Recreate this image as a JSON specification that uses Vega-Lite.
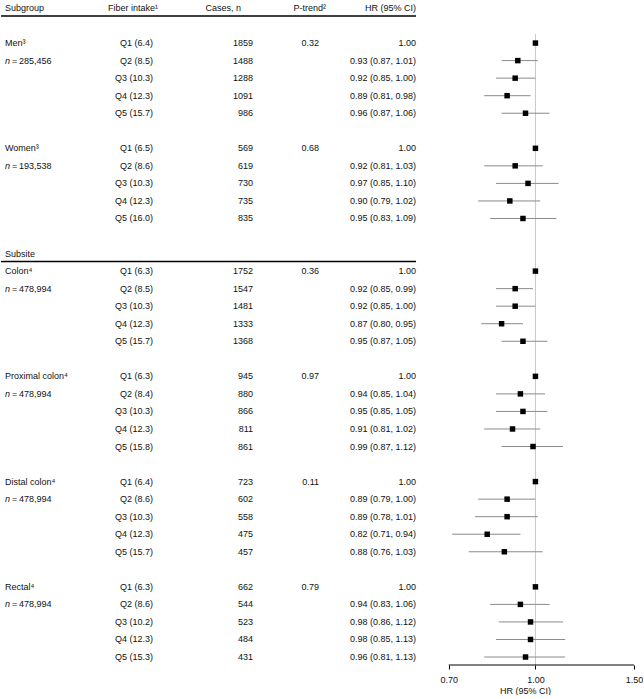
{
  "$schema": "https://vega.github.io/schema/vega-lite/v6.json",
  "padding": 0,
  "spacing": 0,
  "bounds": "flush",
  "config": {
    "view": {"stroke": null},
    "font": "Liberation Sans",
    "text": {"font": "Liberation Sans", "fontSize": 9, "color": "#111", "baseline": "middle"},
    "axis": {"labelFont": "Liberation Sans", "titleFont": "Liberation Sans"}
  },
  "data": {"values": [
    {"key": "M1", "subgroup": "Men³", "fiber": "Q1 (6.4)", "cases": 1859, "ptrend": "0.32", "hr_ci": "1.00", "hr": 1.00},
    {"key": "M2", "n": "285,456", "fiber": "Q2 (8.5)", "cases": 1488, "hr_ci": "0.93 (0.87, 1.01)", "hr": 0.93, "lo": 0.87, "hi": 1.01},
    {"key": "M3", "fiber": "Q3 (10.3)", "cases": 1288, "hr_ci": "0.92 (0.85, 1.00)", "hr": 0.92, "lo": 0.85, "hi": 1.00},
    {"key": "M4", "fiber": "Q4 (12.3)", "cases": 1091, "hr_ci": "0.89 (0.81, 0.98)", "hr": 0.89, "lo": 0.81, "hi": 0.98},
    {"key": "M5", "fiber": "Q5 (15.7)", "cases": 986, "hr_ci": "0.96 (0.87, 1.06)", "hr": 0.96, "lo": 0.87, "hi": 1.06},
    {"key": "W1", "subgroup": "Women³", "fiber": "Q1 (6.5)", "cases": 569, "ptrend": "0.68", "hr_ci": "1.00", "hr": 1.00},
    {"key": "W2", "n": "193,538", "fiber": "Q2 (8.6)", "cases": 619, "hr_ci": "0.92 (0.81, 1.03)", "hr": 0.92, "lo": 0.81, "hi": 1.03},
    {"key": "W3", "fiber": "Q3 (10.3)", "cases": 730, "hr_ci": "0.97 (0.85, 1.10)", "hr": 0.97, "lo": 0.85, "hi": 1.10},
    {"key": "W4", "fiber": "Q4 (12.3)", "cases": 735, "hr_ci": "0.90 (0.79, 1.02)", "hr": 0.90, "lo": 0.79, "hi": 1.02},
    {"key": "W5", "fiber": "Q5 (16.0)", "cases": 835, "hr_ci": "0.95 (0.83, 1.09)", "hr": 0.95, "lo": 0.83, "hi": 1.09},
    {"key": "C1", "subgroup": "Colon⁴", "fiber": "Q1 (6.3)", "cases": 1752, "ptrend": "0.36", "hr_ci": "1.00", "hr": 1.00},
    {"key": "C2", "n": "478,994", "fiber": "Q2 (8.5)", "cases": 1547, "hr_ci": "0.92 (0.85, 0.99)", "hr": 0.92, "lo": 0.85, "hi": 0.99},
    {"key": "C3", "fiber": "Q3 (10.3)", "cases": 1481, "hr_ci": "0.92 (0.85, 1.00)", "hr": 0.92, "lo": 0.85, "hi": 1.00},
    {"key": "C4", "fiber": "Q4 (12.3)", "cases": 1333, "hr_ci": "0.87 (0.80, 0.95)", "hr": 0.87, "lo": 0.80, "hi": 0.95},
    {"key": "C5", "fiber": "Q5 (15.7)", "cases": 1368, "hr_ci": "0.95 (0.87, 1.05)", "hr": 0.95, "lo": 0.87, "hi": 1.05},
    {"key": "P1", "subgroup": "Proximal colon⁴", "fiber": "Q1 (6.3)", "cases": 945, "ptrend": "0.97", "hr_ci": "1.00", "hr": 1.00},
    {"key": "P2", "n": "478,994", "fiber": "Q2 (8.4)", "cases": 880, "hr_ci": "0.94 (0.85, 1.04)", "hr": 0.94, "lo": 0.85, "hi": 1.04},
    {"key": "P3", "fiber": "Q3 (10.3)", "cases": 866, "hr_ci": "0.95 (0.85, 1.05)", "hr": 0.95, "lo": 0.85, "hi": 1.05},
    {"key": "P4", "fiber": "Q4 (12.3)", "cases": 811, "hr_ci": "0.91 (0.81, 1.02)", "hr": 0.91, "lo": 0.81, "hi": 1.02},
    {"key": "P5", "fiber": "Q5 (15.8)", "cases": 861, "hr_ci": "0.99 (0.87, 1.12)", "hr": 0.99, "lo": 0.87, "hi": 1.12},
    {"key": "D1", "subgroup": "Distal colon⁴", "fiber": "Q1 (6.4)", "cases": 723, "ptrend": "0.11", "hr_ci": "1.00", "hr": 1.00},
    {"key": "D2", "n": "478,994", "fiber": "Q2 (8.6)", "cases": 602, "hr_ci": "0.89 (0.79, 1.00)", "hr": 0.89, "lo": 0.79, "hi": 1.00},
    {"key": "D3", "fiber": "Q3 (10.3)", "cases": 558, "hr_ci": "0.89 (0.78, 1.01)", "hr": 0.89, "lo": 0.78, "hi": 1.01},
    {"key": "D4", "fiber": "Q4 (12.3)", "cases": 475, "hr_ci": "0.82 (0.71, 0.94)", "hr": 0.82, "lo": 0.71, "hi": 0.94},
    {"key": "D5", "fiber": "Q5 (15.7)", "cases": 457, "hr_ci": "0.88 (0.76, 1.03)", "hr": 0.88, "lo": 0.76, "hi": 1.03},
    {"key": "R1", "subgroup": "Rectal⁴", "fiber": "Q1 (6.3)", "cases": 662, "ptrend": "0.79", "hr_ci": "1.00", "hr": 1.00},
    {"key": "R2", "n": "478,994", "fiber": "Q2 (8.6)", "cases": 544, "hr_ci": "0.94 (0.83, 1.06)", "hr": 0.94, "lo": 0.83, "hi": 1.06},
    {"key": "R3", "fiber": "Q3 (10.2)", "cases": 523, "hr_ci": "0.98 (0.86, 1.12)", "hr": 0.98, "lo": 0.86, "hi": 1.12},
    {"key": "R4", "fiber": "Q4 (12.3)", "cases": 484, "hr_ci": "0.98 (0.85, 1.13)", "hr": 0.98, "lo": 0.85, "hi": 1.13},
    {"key": "R5", "fiber": "Q5 (15.3)", "cases": 431, "hr_ci": "0.96 (0.81, 1.13)", "hr": 0.96, "lo": 0.81, "hi": 1.13}
  ]},
  "hconcat": [
    {
      "width": 4, "height": 665,
      "layer": [
        {"data": {"values": [{"key": "H", "label": "Subgroup"}, {"key": "S", "label": "Subsite"}]},
         "mark": {"type": "text", "align": "left"},
         "encoding": {"x": {"value": "width"}, "y": {"field": "key", "type": "nominal", "scale": {"type": "point", "domain": ["H","b1","M1","M2","M3","M4","M5","b2","W1","W2","W3","W4","W5","b3","S","C1","C2","C3","C4","C5","b4","P1","P2","P3","P4","P5","b5","D1","D2","D3","D4","D5","b6","R1","R2","R3","R4","R5"], "padding": 0.455}, "axis": null}, "text": {"field": "label"}}},
        {"transform": [{"filter": "isValid(datum.subgroup)"}],
         "mark": {"type": "text", "align": "left"},
         "encoding": {"x": {"value": "width"}, "y": {"field": "key", "type": "nominal", "scale": {"type": "point", "domain": ["H","b1","M1","M2","M3","M4","M5","b2","W1","W2","W3","W4","W5","b3","S","C1","C2","C3","C4","C5","b4","P1","P2","P3","P4","P5","b5","D1","D2","D3","D4","D5","b6","R1","R2","R3","R4","R5"], "padding": 0.455}, "axis": null}, "text": {"field": "subgroup"}}},
        {"transform": [{"filter": "isValid(datum.n)"}],
         "mark": {"type": "text", "align": "left", "fontStyle": "italic"},
         "encoding": {"x": {"value": "width"}, "y": {"field": "key", "type": "nominal", "scale": {"type": "point", "domain": ["H","b1","M1","M2","M3","M4","M5","b2","W1","W2","W3","W4","W5","b3","S","C1","C2","C3","C4","C5","b4","P1","P2","P3","P4","P5","b5","D1","D2","D3","D4","D5","b6","R1","R2","R3","R4","R5"], "padding": 0.455}, "axis": null}, "text": {"value": "n"}}},
        {"transform": [{"filter": "isValid(datum.n)"}],
         "mark": {"type": "text", "align": "left", "dx": 7},
         "encoding": {"x": {"value": "width"}, "y": {"field": "key", "type": "nominal", "scale": {"type": "point", "domain": ["H","b1","M1","M2","M3","M4","M5","b2","W1","W2","W3","W4","W5","b3","S","C1","C2","C3","C4","C5","b4","P1","P2","P3","P4","P5","b5","D1","D2","D3","D4","D5","b6","R1","R2","R3","R4","R5"], "padding": 0.455}, "axis": null}, "text": {"value": "="}}},
        {"transform": [{"filter": "isValid(datum.n)"}],
         "mark": {"type": "text", "align": "left", "dx": 14},
         "encoding": {"x": {"value": "width"}, "y": {"field": "key", "type": "nominal", "scale": {"type": "point", "domain": ["H","b1","M1","M2","M3","M4","M5","b2","W1","W2","W3","W4","W5","b3","S","C1","C2","C3","C4","C5","b4","P1","P2","P3","P4","P5","b5","D1","D2","D3","D4","D5","b6","R1","R2","R3","R4","R5"], "padding": 0.455}, "axis": null}, "text": {"field": "n"}}},
        {"data": {"values": [{"key": "H"}, {"key": "S"}]},
         "mark": {"type": "rule", "strokeWidth": 1.5, "color": "#000", "yOffset": 8},
         "encoding": {"y": {"field": "key", "type": "nominal", "scale": {"type": "point", "domain": ["H","b1","M1","M2","M3","M4","M5","b2","W1","W2","W3","W4","W5","b3","S","C1","C2","C3","C4","C5","b4","P1","P2","P3","P4","P5","b5","D1","D2","D3","D4","D5","b6","R1","R2","R3","R4","R5"], "padding": 0.455}, "axis": null}}}
      ]
    },
    {
      "width": 148, "height": 665,
      "layer": [
        {"data": {"values": [{"key": "H", "label": "Fiber intake¹"}]},
         "mark": {"type": "text", "align": "right", "dx": 5},
         "encoding": {"x": {"value": "width"}, "y": {"field": "key", "type": "nominal", "scale": {"type": "point", "domain": ["H","b1","M1","M2","M3","M4","M5","b2","W1","W2","W3","W4","W5","b3","S","C1","C2","C3","C4","C5","b4","P1","P2","P3","P4","P5","b5","D1","D2","D3","D4","D5","b6","R1","R2","R3","R4","R5"], "padding": 0.455}, "axis": null}, "text": {"field": "label"}}},
        {"mark": {"type": "text", "align": "right"},
         "encoding": {"x": {"value": "width"}, "y": {"field": "key", "type": "nominal", "scale": {"type": "point", "domain": ["H","b1","M1","M2","M3","M4","M5","b2","W1","W2","W3","W4","W5","b3","S","C1","C2","C3","C4","C5","b4","P1","P2","P3","P4","P5","b5","D1","D2","D3","D4","D5","b6","R1","R2","R3","R4","R5"], "padding": 0.455}, "axis": null}, "text": {"field": "fiber"}}},
        {"data": {"values": [{"key": "H"}, {"key": "S"}]},
         "mark": {"type": "rule", "strokeWidth": 1.5, "color": "#000", "yOffset": 8},
         "encoding": {"y": {"field": "key", "type": "nominal", "scale": {"type": "point", "domain": ["H","b1","M1","M2","M3","M4","M5","b2","W1","W2","W3","W4","W5","b3","S","C1","C2","C3","C4","C5","b4","P1","P2","P3","P4","P5","b5","D1","D2","D3","D4","D5","b6","R1","R2","R3","R4","R5"], "padding": 0.455}, "axis": null}}}
      ]
    },
    {
      "width": 100, "height": 665,
      "layer": [
        {"data": {"values": [{"key": "H", "label": "Cases, n"}]},
         "mark": {"type": "text", "align": "right", "dx": -12},
         "encoding": {"x": {"value": "width"}, "y": {"field": "key", "type": "nominal", "scale": {"type": "point", "domain": ["H","b1","M1","M2","M3","M4","M5","b2","W1","W2","W3","W4","W5","b3","S","C1","C2","C3","C4","C5","b4","P1","P2","P3","P4","P5","b5","D1","D2","D3","D4","D5","b6","R1","R2","R3","R4","R5"], "padding": 0.455}, "axis": null}, "text": {"field": "label"}}},
        {"mark": {"type": "text", "align": "right"},
         "encoding": {"x": {"value": "width"}, "y": {"field": "key", "type": "nominal", "scale": {"type": "point", "domain": ["H","b1","M1","M2","M3","M4","M5","b2","W1","W2","W3","W4","W5","b3","S","C1","C2","C3","C4","C5","b4","P1","P2","P3","P4","P5","b5","D1","D2","D3","D4","D5","b6","R1","R2","R3","R4","R5"], "padding": 0.455}, "axis": null}, "text": {"field": "cases", "type": "quantitative", "format": "d"}}},
        {"data": {"values": [{"key": "H"}, {"key": "S"}]},
         "mark": {"type": "rule", "strokeWidth": 1.5, "color": "#000", "yOffset": 8},
         "encoding": {"y": {"field": "key", "type": "nominal", "scale": {"type": "point", "domain": ["H","b1","M1","M2","M3","M4","M5","b2","W1","W2","W3","W4","W5","b3","S","C1","C2","C3","C4","C5","b4","P1","P2","P3","P4","P5","b5","D1","D2","D3","D4","D5","b6","R1","R2","R3","R4","R5"], "padding": 0.455}, "axis": null}}}
      ]
    },
    {
      "width": 66, "height": 665,
      "layer": [
        {"data": {"values": [{"key": "H", "label": "P-trend²"}]},
         "mark": {"type": "text", "align": "right", "dx": 7},
         "encoding": {"x": {"value": "width"}, "y": {"field": "key", "type": "nominal", "scale": {"type": "point", "domain": ["H","b1","M1","M2","M3","M4","M5","b2","W1","W2","W3","W4","W5","b3","S","C1","C2","C3","C4","C5","b4","P1","P2","P3","P4","P5","b5","D1","D2","D3","D4","D5","b6","R1","R2","R3","R4","R5"], "padding": 0.455}, "axis": null}, "text": {"field": "label"}}},
        {"transform": [{"filter": "isValid(datum.ptrend)"}],
         "mark": {"type": "text", "align": "right"},
         "encoding": {"x": {"value": "width"}, "y": {"field": "key", "type": "nominal", "scale": {"type": "point", "domain": ["H","b1","M1","M2","M3","M4","M5","b2","W1","W2","W3","W4","W5","b3","S","C1","C2","C3","C4","C5","b4","P1","P2","P3","P4","P5","b5","D1","D2","D3","D4","D5","b6","R1","R2","R3","R4","R5"], "padding": 0.455}, "axis": null}, "text": {"field": "ptrend"}}},
        {"data": {"values": [{"key": "H"}, {"key": "S"}]},
         "mark": {"type": "rule", "strokeWidth": 1.5, "color": "#000", "yOffset": 8},
         "encoding": {"y": {"field": "key", "type": "nominal", "scale": {"type": "point", "domain": ["H","b1","M1","M2","M3","M4","M5","b2","W1","W2","W3","W4","W5","b3","S","C1","C2","C3","C4","C5","b4","P1","P2","P3","P4","P5","b5","D1","D2","D3","D4","D5","b6","R1","R2","R3","R4","R5"], "padding": 0.455}, "axis": null}}}
      ]
    },
    {
      "width": 97, "height": 665,
      "layer": [
        {"data": {"values": [{"key": "H", "label": "HR (95% CI)"}]},
         "mark": {"type": "text", "align": "right"},
         "encoding": {"x": {"value": "width"}, "y": {"field": "key", "type": "nominal", "scale": {"type": "point", "domain": ["H","b1","M1","M2","M3","M4","M5","b2","W1","W2","W3","W4","W5","b3","S","C1","C2","C3","C4","C5","b4","P1","P2","P3","P4","P5","b5","D1","D2","D3","D4","D5","b6","R1","R2","R3","R4","R5"], "padding": 0.455}, "axis": null}, "text": {"field": "label"}}},
        {"mark": {"type": "text", "align": "right"},
         "encoding": {"x": {"value": "width"}, "y": {"field": "key", "type": "nominal", "scale": {"type": "point", "domain": ["H","b1","M1","M2","M3","M4","M5","b2","W1","W2","W3","W4","W5","b3","S","C1","C2","C3","C4","C5","b4","P1","P2","P3","P4","P5","b5","D1","D2","D3","D4","D5","b6","R1","R2","R3","R4","R5"], "padding": 0.455}, "axis": null}, "text": {"field": "hr_ci"}}},
        {"data": {"values": [{"key": "H"}, {"key": "S"}]},
         "mark": {"type": "rule", "strokeWidth": 1.5, "color": "#000", "yOffset": 8},
         "encoding": {"y": {"field": "key", "type": "nominal", "scale": {"type": "point", "domain": ["H","b1","M1","M2","M3","M4","M5","b2","W1","W2","W3","W4","W5","b3","S","C1","C2","C3","C4","C5","b4","P1","P2","P3","P4","P5","b5","D1","D2","D3","D4","D5","b6","R1","R2","R3","R4","R5"], "padding": 0.455}, "axis": null}}}
      ]
    },
    {
      "width": 218, "height": 665,
      "layer": [
        {"data": {"values": [{"key": "b1", "v": 1}]},
         "mark": {"type": "rule", "color": "#c8c8c8", "strokeWidth": 1, "yOffset": 8.5},
         "encoding": {
           "x": {"field": "v", "type": "quantitative", "scale": {"type": "log", "domain": [0.6118, 1.5], "nice": false, "zero": false}, "axis": {"values": [0.7, 1, 1.5], "format": ".2f", "domain": false, "grid": false, "ticks": true, "tickColor": "#000", "tickSize": 4, "labelFontSize": 9, "labelColor": "#111", "labelPadding": 6, "labelFlush": false, "labelOverlap": false, "title": "HR (95% CI)", "titleFontSize": 9, "titleFontWeight": "normal", "titleColor": "#111", "titlePadding": 2}},
           "y": {"field": "key", "type": "nominal", "scale": {"type": "point", "domain": ["H","b1","M1","M2","M3","M4","M5","b2","W1","W2","W3","W4","W5","b3","S","C1","C2","C3","C4","C5","b4","P1","P2","P3","P4","P5","b5","D1","D2","D3","D4","D5","b6","R1","R2","R3","R4","R5"], "padding": 0.455}, "axis": null},
           "y2": {"value": "height"}}},
        {"transform": [{"filter": "isValid(datum.lo)"}],
         "mark": {"type": "rule", "color": "#8a8a8a", "strokeWidth": 1},
         "encoding": {
           "x": {"field": "lo", "type": "quantitative", "scale": {"type": "log", "domain": [0.6118, 1.5], "nice": false, "zero": false}, "axis": {"values": [0.7, 1, 1.5], "format": ".2f", "domain": false, "grid": false, "ticks": true, "tickColor": "#000", "tickSize": 4, "labelFontSize": 9, "labelColor": "#111", "labelPadding": 6, "labelFlush": false, "labelOverlap": false, "title": "HR (95% CI)", "titleFontSize": 9, "titleFontWeight": "normal", "titleColor": "#111", "titlePadding": 2}},
           "x2": {"field": "hi"},
           "y": {"field": "key", "type": "nominal", "scale": {"type": "point", "domain": ["H","b1","M1","M2","M3","M4","M5","b2","W1","W2","W3","W4","W5","b3","S","C1","C2","C3","C4","C5","b4","P1","P2","P3","P4","P5","b5","D1","D2","D3","D4","D5","b6","R1","R2","R3","R4","R5"], "padding": 0.455}, "axis": null}}},
        {"mark": {"type": "point", "shape": "square", "filled": true, "size": 30, "color": "#000", "opacity": 1},
         "encoding": {
           "x": {"field": "hr", "type": "quantitative", "scale": {"type": "log", "domain": [0.6118, 1.5], "nice": false, "zero": false}, "axis": {"values": [0.7, 1, 1.5], "format": ".2f", "domain": false, "grid": false, "ticks": true, "tickColor": "#000", "tickSize": 4, "labelFontSize": 9, "labelColor": "#111", "labelPadding": 6, "labelFlush": false, "labelOverlap": false, "title": "HR (95% CI)", "titleFontSize": 9, "titleFontWeight": "normal", "titleColor": "#111", "titlePadding": 2}},
           "y": {"field": "key", "type": "nominal", "scale": {"type": "point", "domain": ["H","b1","M1","M2","M3","M4","M5","b2","W1","W2","W3","W4","W5","b3","S","C1","C2","C3","C4","C5","b4","P1","P2","P3","P4","P5","b5","D1","D2","D3","D4","D5","b6","R1","R2","R3","R4","R5"], "padding": 0.455}, "axis": null}}},
        {"data": {"values": [{"a": 0.7, "b": 1.5}]},
         "mark": {"type": "rule", "color": "#000", "strokeWidth": 1},
         "encoding": {
           "x": {"field": "a", "type": "quantitative", "scale": {"type": "log", "domain": [0.6118, 1.5], "nice": false, "zero": false}, "axis": {"values": [0.7, 1, 1.5], "format": ".2f", "domain": false, "grid": false, "ticks": true, "tickColor": "#000", "tickSize": 4, "labelFontSize": 9, "labelColor": "#111", "labelPadding": 6, "labelFlush": false, "labelOverlap": false, "title": "HR (95% CI)", "titleFontSize": 9, "titleFontWeight": "normal", "titleColor": "#111", "titlePadding": 2}},
           "x2": {"field": "b"},
           "y": {"value": "height"}}}
      ]
    }
  ]
}
